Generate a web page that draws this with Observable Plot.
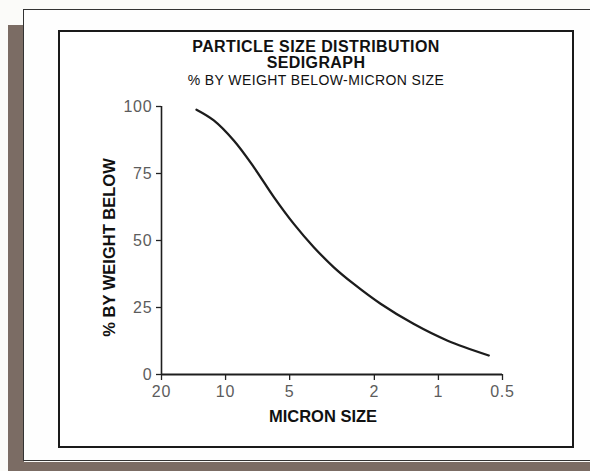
<!DOCTYPE html>
<html>
<head>
<meta charset="utf-8">
<script src="https://cdn.jsdelivr.net/npm/d3@7"></script>
<script src="https://cdn.jsdelivr.net/npm/@observablehq/plot@0.6"></script>
<style>
  html, body { margin: 0; padding: 0; background: #fbfbf9; }
  #page { position: relative; width: 590px; height: 471px; overflow: hidden; background: #fbfbf9; font-family: "Liberation Sans", Arial, sans-serif; }
  .shadow { position: absolute; background: #7b6c64; }
  #outer { position: absolute; left: 23px; top: 9px; width: 600px; height: 452px; border: 1.5px solid #333; border-right: none; background: #fefefe; box-sizing: border-box; }
  #inner { position: absolute; left: 58px; top: 30px; width: 516px; height: 418px; border: 2.5px solid #1a1a1a; box-sizing: border-box; background: #fff; }
  .title { position: absolute; left: 58px; width: 516px; text-align: center; color: #111; white-space: nowrap; }
  #t1 { top: 38px; font-size: 16px; font-weight: bold; letter-spacing: 0.4px; }
  #t2 { top: 54px; font-size: 16px; font-weight: bold; letter-spacing: 0.4px; }
  #t3 { top: 72px; font-size: 14px; letter-spacing: 0.4px; }
  #chart { position: absolute; left: 0; top: 0; }
  #chart g[aria-label="x-axis tick label"], #chart g[aria-label="y-axis tick label"] { fill: #5c5c5c; font-size: 16px; letter-spacing: 0.8px; }
  #chart g[aria-label="x-axis label"], #chart g[aria-label="y-axis label"] { font-weight: bold; fill: #111; letter-spacing: 0; }
  #chart g[aria-label="x-axis label"] { font-size: 16.5px; }
  #chart g[aria-label="y-axis label"] { font-size: 16.5px; }
  #chart g[aria-label="x-axis label"] text { translate: -9px 0; }
  #chart g[aria-label="y-axis label"] text { translate: 0 7px; }
</style>
</head>
<body>
<div id="page">
  <div class="shadow" style="left:8px; top:25px; width:16px; height:446px;"></div>
  <div class="shadow" style="left:8px; top:462px; width:582px; height:9px;"></div>
  <div id="outer"></div>
  <div id="inner"></div>
  <div class="title" id="t1">PARTICLE SIZE DISTRIBUTION</div>
  <div class="title" id="t2">SEDIGRAPH</div>
  <div class="title" id="t3">% BY WEIGHT BELOW-MICRON SIZE</div>
  <div id="chart"></div>
</div>
<script>
// Micron size (log, reversed axis) and cumulative % by weight below
const micron   = [13.7, 11.36, 9.15, 7.37, 5.93, 4.78, 3.85, 3.10, 2.50, 1.87, 1.31, 0.91, 0.58];
const pctBelow = [98.8, 94.8, 87.3, 77.4, 66.2, 56.2, 47.5, 40.0, 33.8, 26.4, 18.9, 12.7, 7.1];
const xTicks = [20, 10, 5, 2, 1, 0.5];
const yTicks = [0, 25, 50, 75, 100];
const xLabel = "MICRON SIZE";
const yLabel = "% BY WEIGHT BELOW";

const data = micron.map((m, i) => ({micron: m, pct: pctBelow[i]}));

const chart = Plot.plot({
  width: 590,
  height: 471,
  marginLeft: 161,
  marginRight: 88,
  marginTop: 106,
  marginBottom: 97,
  style: {background: "transparent", fontFamily: "'Liberation Sans', Arial, sans-serif", overflow: "visible"},
  x: {type: "log", domain: [xTicks[0], xTicks[xTicks.length - 1]]},
  y: {domain: [yTicks[0], yTicks[yTicks.length - 1]]},
  marks: [
    Plot.axisX({
      ticks: xTicks, tickFormat: d => String(d), tickSize: 6, tickPadding: 5,
      stroke: "#222", strokeWidth: 1.3,
      label: xLabel, labelAnchor: "center", labelOffset: 47, labelArrow: "none"
    }),
    Plot.axisY({
      ticks: yTicks, tickSize: 5, tickPadding: 4,
      stroke: "#222", strokeWidth: 1.3,
      label: yLabel, labelAnchor: "center", labelOffset: 58, labelArrow: "none"
    }),
    Plot.ruleX([xTicks[0]], {stroke: "#1e1e1e", strokeWidth: 1.6}),
    Plot.ruleY([yTicks[0]], {stroke: "#1e1e1e", strokeWidth: 1.8}),
    Plot.line(data, {x: "micron", y: "pct", curve: "catmull-rom", stroke: "#1c1c1c", strokeWidth: 2.3})
  ]
});
document.getElementById("chart").appendChild(chart);
</script>
</body>
</html>
